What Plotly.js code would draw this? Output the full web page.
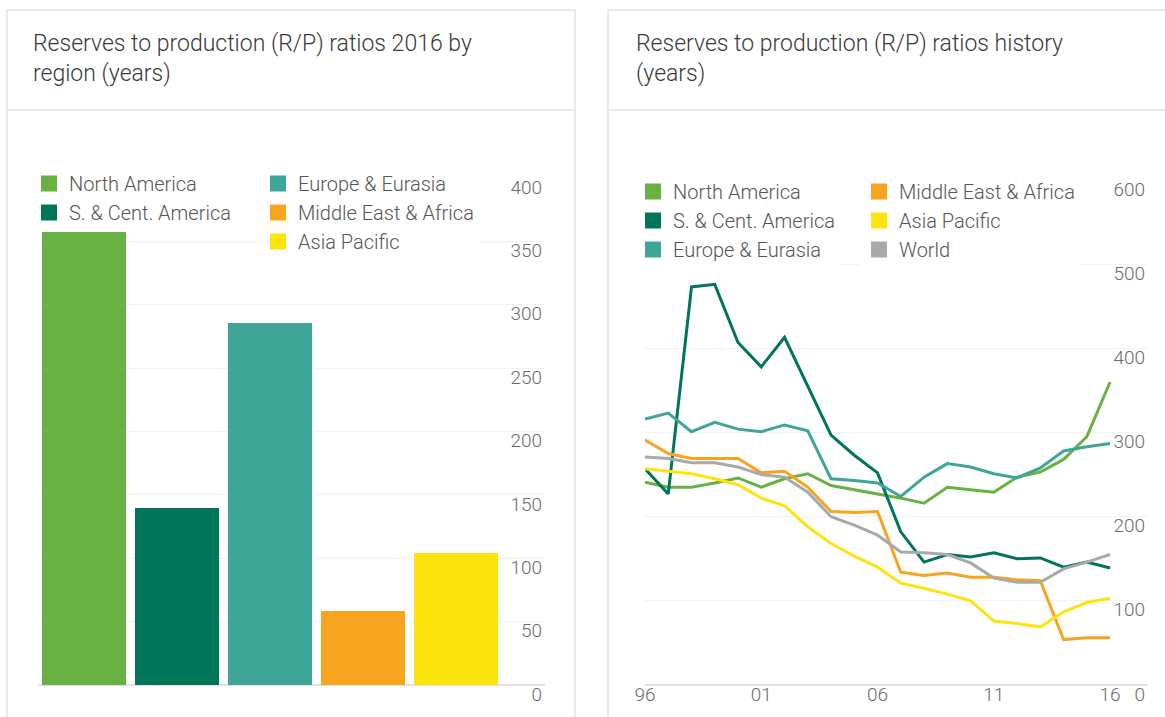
<!DOCTYPE html>
<html><head><meta charset="utf-8">
<script src="https://cdn.plot.ly/plotly-3.0.1.min.js"></script>
<style>html,body{margin:0;padding:0;background:#fff;} #chart{width:1165px;height:717px;}</style>
</head><body><div id="chart"></div>
<script>
// ---- data ----
const regions = ['North America', 'S. & Cent. America', 'Europe & Eurasia', 'Middle East & Africa', 'Asia Pacific'];
const rp2016 = [358, 140, 286, 58, 104];

const years = [1996,1997,1998,1999,2000,2001,2002,2003,2004,2005,2006,2007,2008,2009,2010,2011,2012,2013,2014,2015,2016];
const northAmerica     = [241,235,235,240,246,235,245,251,237,232,227,222,216,235,232,229,247,253,268,295,360];
const southCentAmerica = [257,227,473,476,407,378,413,354,297,273,252,182,146,155,152,157,150,151,140,146,139];
const europeEurasia    = [316,323,301,312,304,301,309,302,245,243,240,224,247,263,259,251,246,258,278,283,287];
const middleEastAfrica = [291,275,269,269,269,252,254,235,206,205,206,134,130,133,128,128,125,124,54,56,56];
const asiaPacific      = [257,254,251,245,238,222,213,188,168,153,140,121,115,108,100,76,73,69,87,98,103];
const world            = [271,269,264,264,259,250,247,229,200,190,178,158,157,155,145,127,122,122,138,146,155];

const barTickVals = [0, 50, 100, 150, 200, 250, 300, 350, 400];
const lineTickValsY = [0, 100, 200, 300, 400, 500, 600];
const lineTickVals = [1996, 2001, 2006, 2011, 2016];
const lineTickText = ['96', '01', '06', '11', '16'];

const leftTitle = 'Reserves to production (R/P) ratios 2016 by<br>region (years)';
const rightTitle = 'Reserves to production (R/P) ratios history<br>(years)';

// ---- styles ----
const W = 1165, H = 717;
const px = x => x / W;
const py = y => 1 - y / H;
const FONT = 'Roboto, "Liberation Sans", Arial, sans-serif';
const regionColors = ['#6ab143', '#00755a', '#3ea597', '#f7a51e', '#fde40f'];
const lineSeries = [
  {name: 'North America', y: northAmerica, color: '#6ab143', legend: 'legend3'},
  {name: 'S. & Cent. America', y: southCentAmerica, color: '#00755a', legend: 'legend3'},
  {name: 'Europe & Eurasia', y: europeEurasia, color: '#3ea597', legend: 'legend3'},
  {name: 'Middle East & Africa', y: middleEastAfrica, color: '#f7a51e', legend: 'legend4'},
  {name: 'Asia Pacific', y: asiaPacific, color: '#fde40f', legend: 'legend4'},
  {name: 'World', y: world, color: '#a8a9ab', legend: 'legend4'}
];

const traces = [];
// bars
regions.forEach((r, i) => {
  traces.push({type: 'bar', x: [r], y: [rp2016[i]], marker: {color: regionColors[i], line: {width: 0}},
    xaxis: 'x', yaxis: 'y', showlegend: false, hoverinfo: 'x+y'});
});
// bar legend entries
regions.forEach((r, i) => {
  traces.push({type: 'scatter', mode: 'markers', x: [null], y: [null], name: r,
    marker: {symbol: 'square', size: 16, color: regionColors[i], line: {width: 0}},
    xaxis: 'x', yaxis: 'y', legend: i < 2 ? 'legend' : 'legend2', showlegend: true});
});
// lines
lineSeries.forEach(s => {
  traces.push({type: 'scatter', mode: 'lines', x: years, y: s.y, name: s.name,
    line: {color: s.color, width: 3}, xaxis: 'x2', yaxis: 'y2', showlegend: false});
});
lineSeries.forEach(s => {
  traces.push({type: 'scatter', mode: 'markers', x: [null], y: [null], name: s.name,
    marker: {symbol: 'square', size: 16, color: s.color, line: {width: 0}},
    xaxis: 'x2', yaxis: 'y2', legend: s.legend, showlegend: true});
});

const tickFont = {family: FONT, size: 19, color: '#6b6b6b', weight: 300};
const legendFont = {family: FONT, size: 20, color: '#555555', weight: 300};
const legendBase = {orientation: 'v', traceorder: 'normal', xanchor: 'left', yanchor: 'top', bgcolor: 'rgba(255,255,255,1)',
  borderwidth: 0, font: legendFont, itemclick: false, itemdoubleclick: false};

const yBase = {
  side: 'right', ticklabelposition: 'inside', ticklabelshift: 9, ticklabeloverflow: 'allow',
  showgrid: true, gridcolor: '#f1f1f1', gridwidth: 1, zeroline: true, zerolinecolor: '#e2e2e2', zerolinewidth: 1.5,
  showline: false, ticks: '', tickfont: tickFont, fixedrange: true
};

const layout = {
  width: W, height: H,
  margin: {l: 0, r: 0, t: 0, b: 0},
  paper_bgcolor: '#ffffff', plot_bgcolor: 'rgba(0,0,0,0)',
  showlegend: true,
  barmode: 'stack', bargap: 0.096,
  font: {family: FONT, color: '#555'},
  xaxis: {domain: [px(37.6), px(545)], range: [-0.5, 4.96], type: 'category', categoryorder: 'array', categoryarray: regions,
    showticklabels: false, showgrid: false, zeroline: false, showline: false, ticks: '', fixedrange: true},
  yaxis: Object.assign({}, yBase, {domain: [py(685), py(178)], range: [0, 400], tickvals: barTickVals, anchor: 'x'}),
  xaxis2: {domain: [px(645), px(1148)], range: [1996, 2017.63], tickvals: lineTickVals, ticktext: lineTickText,
    showgrid: false, zeroline: false, showline: false, ticks: '', ticklabelstandoff: -4, tickfont: tickFont, anchor: 'y2', fixedrange: true},
  yaxis2: Object.assign({}, yBase, {domain: [py(685), py(180)], range: [0, 600], tickvals: lineTickValsY, anchor: 'x2'}),
  legend: Object.assign({}, legendBase, {x: px(29), y: py(164)}),
  legend2: Object.assign({}, legendBase, {x: px(258), y: py(164)}),
  legend3: Object.assign({}, legendBase, {x: px(633), y: py(172)}),
  legend4: Object.assign({}, legendBase, {x: px(859), y: py(172)}),
  shapes: [
    {type: 'rect', xref: 'paper', yref: 'paper', x0: px(7), x1: px(575), y0: py(10), y1: -0.1, line: {color: '#e3e3e3', width: 1.5}, fillcolor: 'rgba(0,0,0,0)', layer: 'below'},
    {type: 'line', xref: 'paper', yref: 'paper', x0: px(7), x1: px(575), y0: py(110), y1: py(110), line: {color: '#e3e3e3', width: 1.5}, layer: 'below'},
    {type: 'rect', xref: 'paper', yref: 'paper', x0: px(608), x1: px(1180), y0: py(10), y1: -0.1, line: {color: '#e3e3e3', width: 1.5}, fillcolor: 'rgba(0,0,0,0)', layer: 'below'},
    {type: 'line', xref: 'paper', yref: 'paper', x0: px(608), x1: px(1180), y0: py(110), y1: py(110), line: {color: '#e3e3e3', width: 1.5}, layer: 'below'}
  ],
  annotations: [
    {text: leftTitle, xref: 'paper', yref: 'paper', x: px(31), y: py(28), xanchor: 'left', yanchor: 'top', align: 'left', showarrow: false,
      font: {family: FONT, size: 23, color: '#3a3a3a', weight: 300}},
    {text: rightTitle, xref: 'paper', yref: 'paper', x: px(634), y: py(28), xanchor: 'left', yanchor: 'top', align: 'left', showarrow: false,
      font: {family: FONT, size: 23, color: '#3a3a3a', weight: 300}}
  ]
};

Plotly.newPlot('chart', traces, layout, {displayModeBar: false, staticPlot: true});
</script>
</body></html>
